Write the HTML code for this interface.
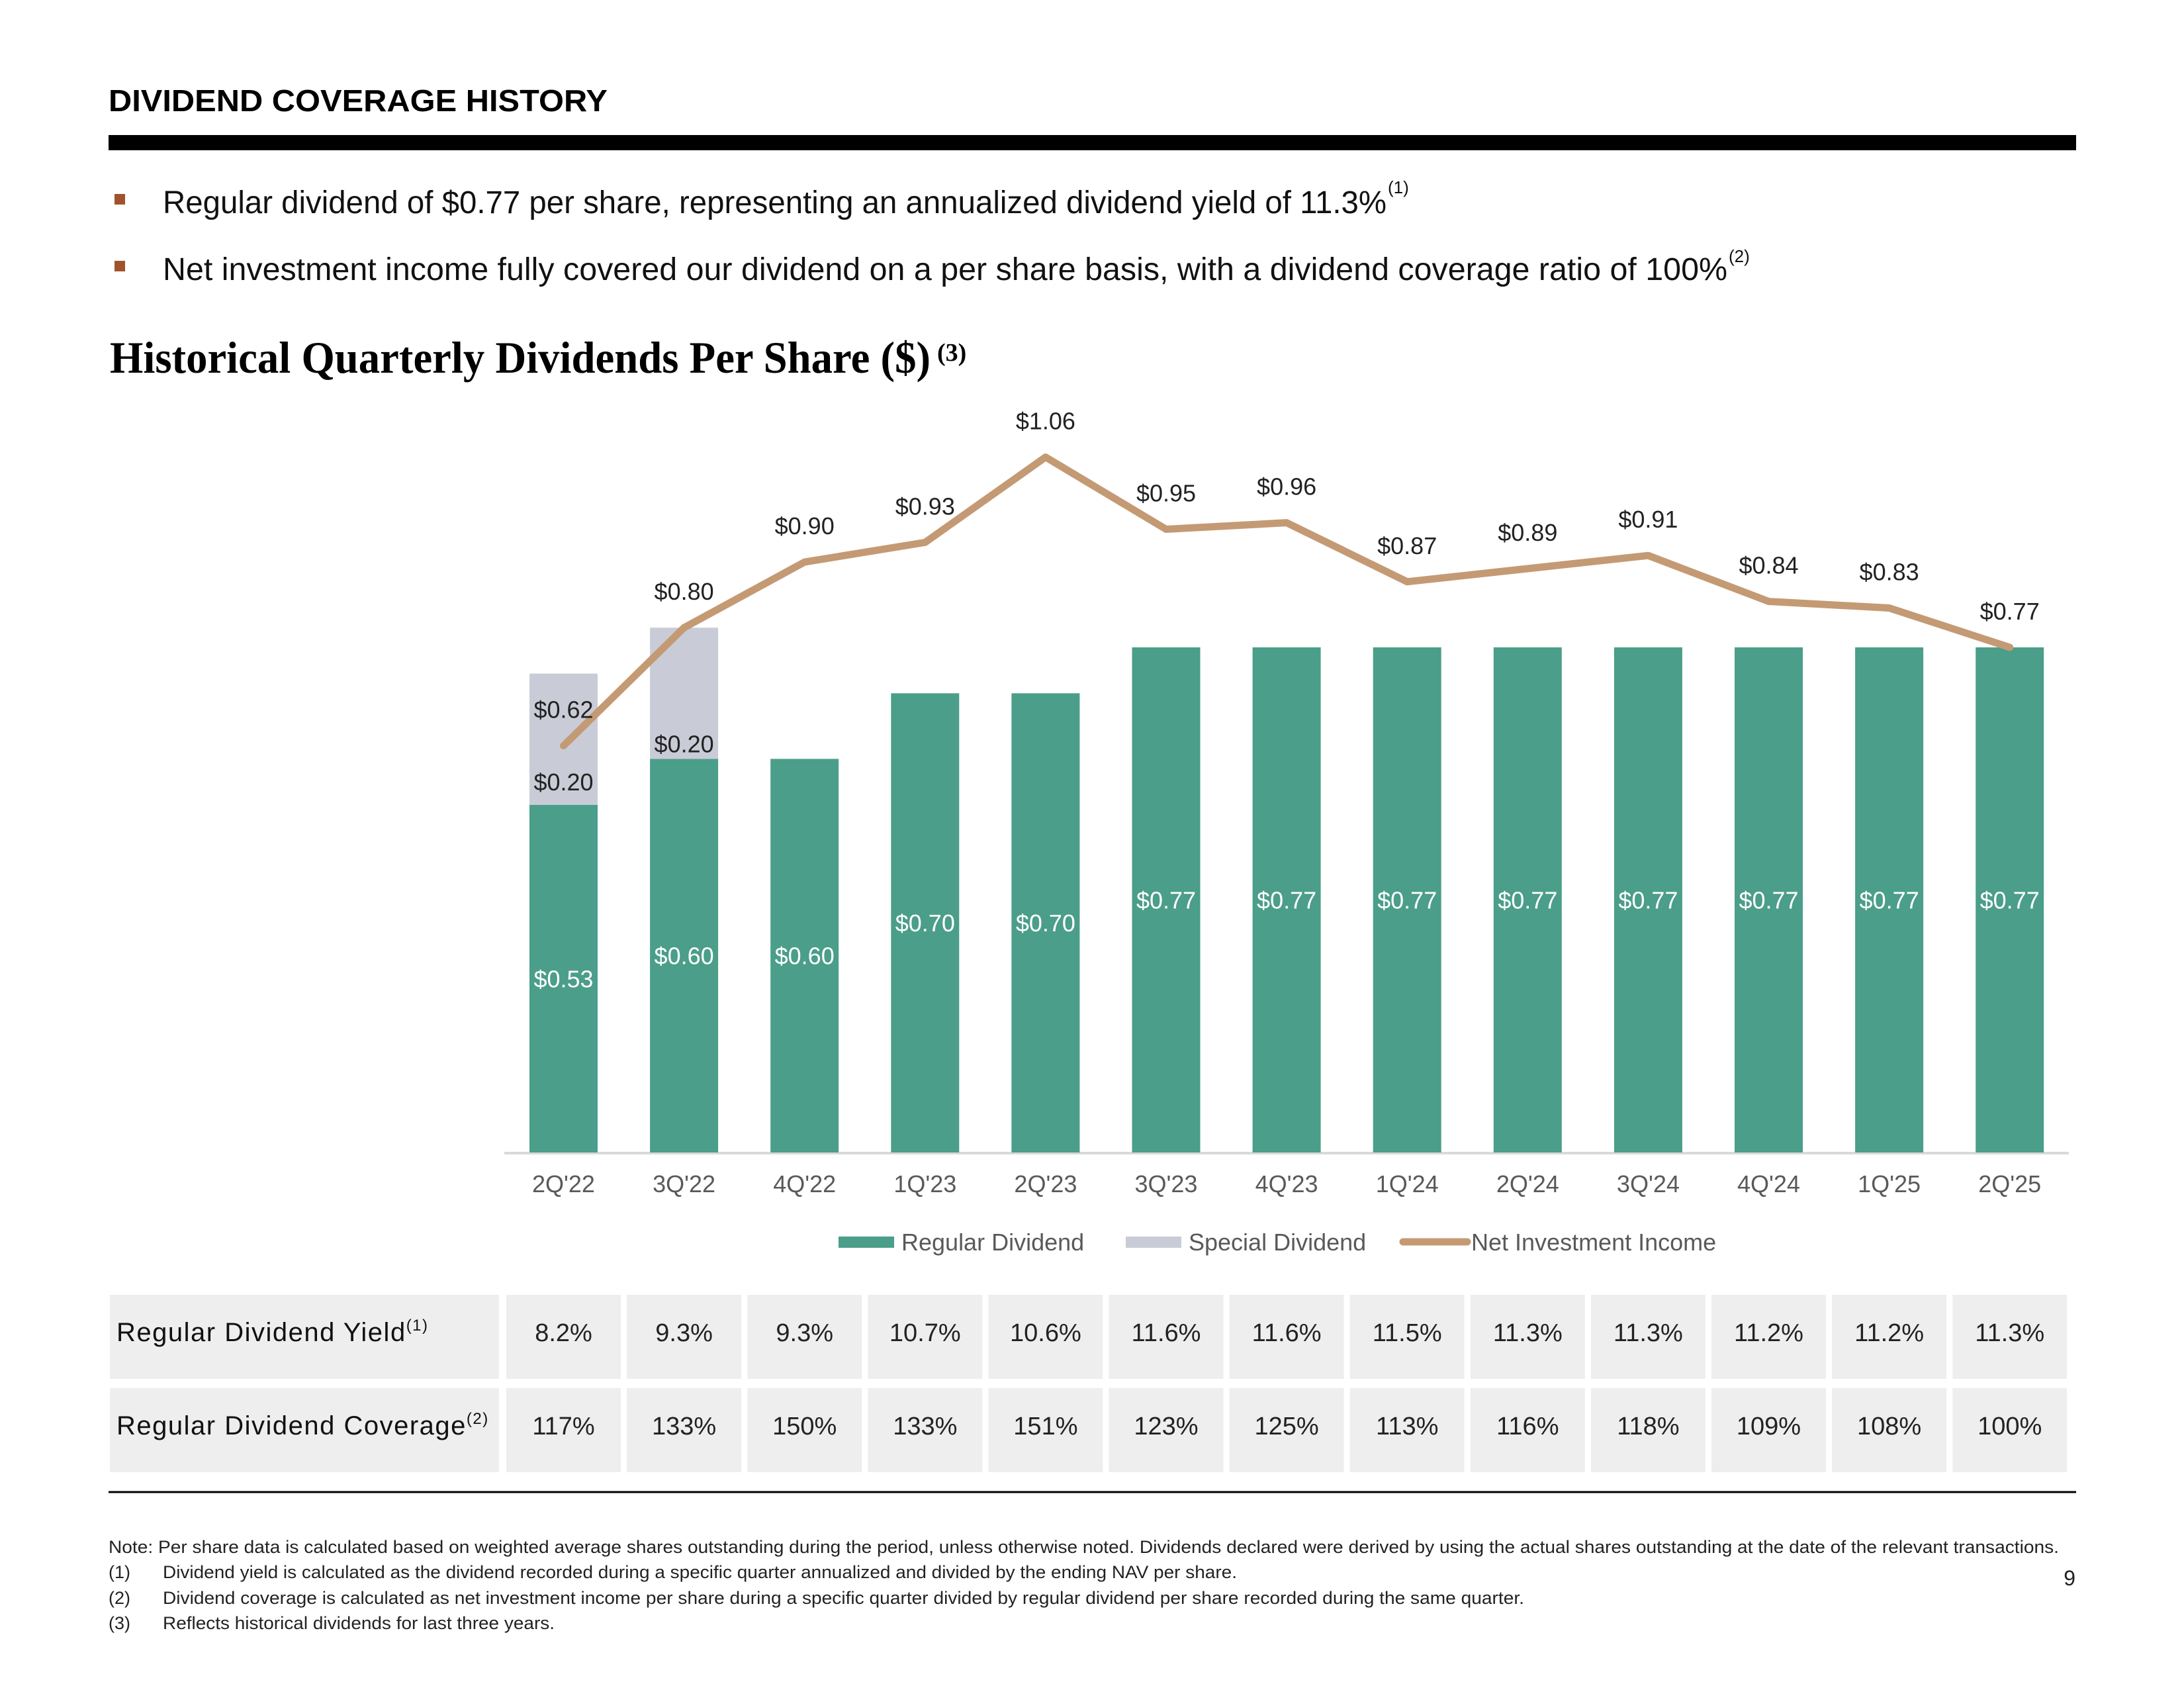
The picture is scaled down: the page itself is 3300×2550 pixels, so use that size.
<!DOCTYPE html>
<html><head><meta charset="utf-8"><style>
html,body{margin:0;padding:0;background:#fff;}
svg{display:block;font-family:"Liberation Sans",sans-serif;}
</style></head><body>
<svg id="chart" width="3300" height="2550" viewBox="0 0 3300 2550" xmlns="http://www.w3.org/2000/svg">
<rect width="3300" height="2550" fill="#fff"/>
<text x="164" y="168" font-size="46" font-weight="bold" fill="#000" textLength="754" lengthAdjust="spacingAndGlyphs">DIVIDEND COVERAGE HISTORY</text>
<rect x="164" y="204" width="2973" height="23" fill="#000"/>
<rect x="173" y="293" width="16" height="16" fill="#a0522d"/>
<text x="246" y="322" font-size="48" fill="#111" textLength="1849" lengthAdjust="spacingAndGlyphs">Regular dividend of $0.77 per share, representing an annualized dividend yield of 11.3%</text>
<text x="2097" y="292" font-size="26" fill="#111">(1)</text>
<rect x="173" y="394" width="16" height="16" fill="#a0522d"/>
<text x="246" y="423" font-size="48" fill="#111" textLength="2364" lengthAdjust="spacingAndGlyphs">Net investment income fully covered our dividend on a per share basis, with a dividend coverage ratio of 100%</text>
<text x="2612" y="396" font-size="26" fill="#111">(2)</text>
<text x="166" y="563" font-family="Liberation Serif, serif" font-size="68" font-weight="bold" fill="#000" textLength="1240" lengthAdjust="spacingAndGlyphs">Historical Quarterly Dividends Per Share ($)</text>
<text x="1416" y="545" font-family="Liberation Serif, serif" font-size="38" font-weight="bold" fill="#000">(3)</text>
<g id="plot"></g>
<g id="legend"></g>
<g id="table"></g>
<line x1="164" y1="2254" x2="3137" y2="2254" stroke="#000" stroke-width="3"/>
<g font-size="27" fill="#222">
<text x="164" y="2346" textLength="2947" lengthAdjust="spacingAndGlyphs">Note: Per share data is calculated based on weighted average shares outstanding during the period, unless otherwise noted. Dividends declared were derived by using the actual shares outstanding at the date of the relevant transactions.</text>
<text x="164" y="2384">(1)</text><text x="246" y="2384" textLength="1623" lengthAdjust="spacingAndGlyphs">Dividend yield is calculated as the dividend recorded during a specific quarter annualized and divided by the ending NAV per share.</text>
<text x="164" y="2423">(2)</text><text x="246" y="2423" textLength="2057" lengthAdjust="spacingAndGlyphs">Dividend coverage is calculated as net investment income per share during a specific quarter divided by regular dividend per share recorded during the same quarter.</text>
<text x="164" y="2461">(3)</text><text x="246" y="2461" textLength="592" lengthAdjust="spacingAndGlyphs">Reflects historical dividends for last three years.</text>
</g>
<text x="3136" y="2395" font-size="32" fill="#222" text-anchor="end">9</text>
</svg>
<script>
const categories = ["2Q'22","3Q'22","4Q'22","1Q'23","2Q'23","3Q'23","4Q'23","1Q'24","2Q'24","3Q'24","4Q'24","1Q'25","2Q'25"];
const regularDiv = [0.53,0.60,0.60,0.70,0.70,0.77,0.77,0.77,0.77,0.77,0.77,0.77,0.77];
const specialDiv = [0.20,0.20,0,0,0,0,0,0,0,0,0,0,0];
const nii = [0.62,0.80,0.90,0.93,1.06,0.95,0.96,0.87,0.89,0.91,0.84,0.83,0.77];
const yieldLabels = ["8.2%","9.3%","9.3%","10.7%","10.6%","11.6%","11.6%","11.5%","11.3%","11.3%","11.2%","11.2%","11.3%"];
const coverageLabels = ["117%","133%","150%","133%","151%","123%","125%","113%","116%","118%","109%","108%","100%"];

const NS="http://www.w3.org/2000/svg";
const baseY=1741, pxPer=991, x0=851.5, step=182.1, barW=103;
const xS=i=>x0+i*step;
const yS=v=>baseY-v*pxPer;
function mk(tag,attrs,parent,txt){const e=document.createElementNS(NS,tag);for(const k in attrs)e.setAttribute(k,attrs[k]);if(txt!==undefined)e.textContent=txt;parent.appendChild(e);return e;}
const plot=document.getElementById('plot');
let e=mk('line',{x1:762,y1:baseY+1,x2:3126,y2:baseY+1,stroke:'#d9d9d9','stroke-width':4},plot);


categories.forEach((c,i)=>{
  const cx=xS(i);
  let r=mk('rect',{x:cx-barW/2,y:yS(regularDiv[i]),width:barW,height:regularDiv[i]*pxPer,fill:'#4b9e89'},plot);
  
  
  if(specialDiv[i]>0){
    let s=mk('rect',{x:cx-barW/2,y:yS(regularDiv[i]+specialDiv[i]),width:barW,height:specialDiv[i]*pxPer,fill:'#c9ccd6'},plot);
    
    
    let st=mk('text',{x:cx,y:yS(regularDiv[i])-(i===0?22:10),'font-size':36,fill:'#222','text-anchor':'middle'},plot,'$'+specialDiv[i].toFixed(2));
    
    
  }
  let rt=mk('text',{x:cx,y:(yS(regularDiv[i])+baseY)/2+13,'font-size':36,fill:'#fff','text-anchor':'middle'},plot,'$'+regularDiv[i].toFixed(2));
  
  
  let ct=mk('text',{x:cx,y:1801,'font-size':36,fill:'#595959','text-anchor':'middle'},plot,c);
  
  
});
let pl=mk('polyline',{points:nii.map((v,i)=>xS(i)+','+yS(v)).join(' '),fill:'none',stroke:'#c49a74','stroke-width':11,'stroke-linejoin':'round','stroke-linecap':'round'},plot);


nii.forEach((v,i)=>{
  let t=mk('text',{x:xS(i),y:yS(v)-42,'font-size':36,fill:'#222','text-anchor':'middle'},plot,'$'+v.toFixed(2));
  
  
});
const lg=document.getElementById('legend');
const legendItems=[["Regular Dividend",1267,'#4b9e89','rect'],["Special Dividend",1701,'#c9ccd6','rect'],["Net Investment Income",2120,'#c49a74','line']];
legendItems.forEach(([name,x,col,kind],k)=>{
  let g=mk('g',{},lg);
  
  
  if(kind==='rect') mk('rect',{x:x,y:1868,width:84,height:17,fill:col},g);
  else mk('line',{x1:x,y1:1876,x2:x+97,y2:1876,stroke:col,'stroke-width':11,'stroke-linecap':'round'},g);
  mk('text',{x:x+(kind==='rect'?95:103),y:1889,'font-size':36,fill:'#595959'},g,name);
});
const tb=document.getElementById('table');
const rows=[["Regular Dividend Yield",yieldLabels,1956,"(1)"],["Regular Dividend Coverage",coverageLabels,2097,"(2)"]];
rows.forEach(([label,vals,y,fn],r)=>{
  let lc=mk('rect',{x:166,y:y,width:588,height:127,fill:'#eeeeee'},tb);
  
  
  let lt=mk('text',{x:176,y:y+70,'font-size':40,fill:'#111','letter-spacing':1.5},tb,label);
  
  
  mk('tspan',{'font-size':24,dy:-16},lt,fn);
  vals.forEach((v,i)=>{
    let c=mk('rect',{x:xS(i)-86.5,y:y,width:173,height:127,fill:'#eeeeee'},tb);
    
    
    let t=mk('text',{x:xS(i),y:y+70,'font-size':38,fill:'#222','text-anchor':'middle'},tb,v);
    
    
  });
});
</script>
</body></html>
